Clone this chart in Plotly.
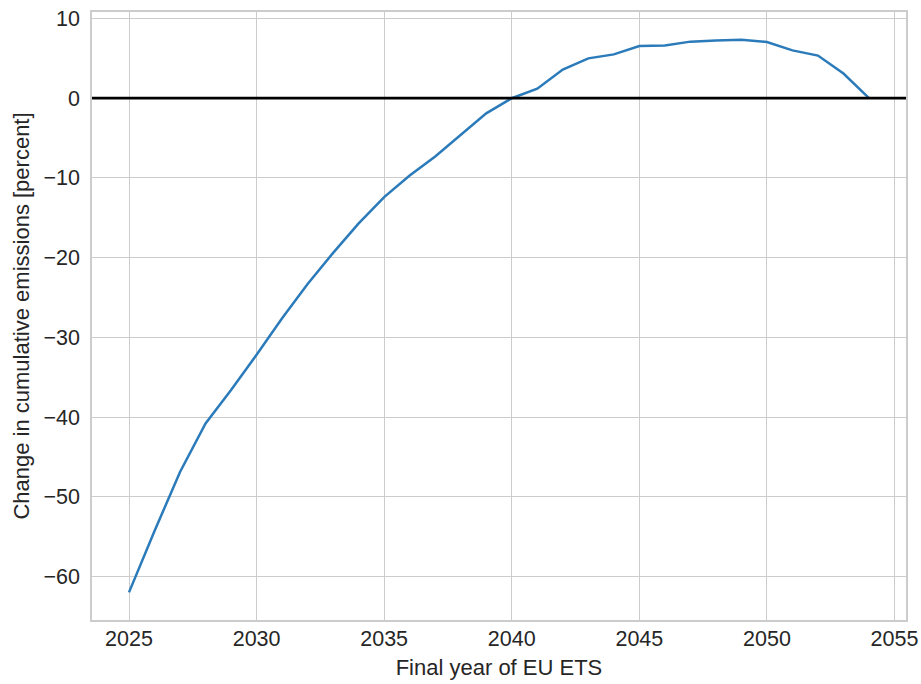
import plotly.graph_objects as go

# Final year of the EU ETS and the resulting change in cumulative emissions (%)
years = list(range(2025, 2055))
change_pct = [
    -62.0, -54.3, -46.9, -40.8, -36.6, -32.2, -27.6, -23.3, -19.4, -15.7,
    -12.4, -9.7, -7.3, -4.6, -1.9, 0.0, 1.2, 3.6, 5.0, 5.5,
    6.55, 6.6, 7.1, 7.25, 7.35, 7.05, 6.0, 5.35, 3.1, 0.0,
]
x_ticks = [2025, 2030, 2035, 2040, 2045, 2050, 2055]
y_ticks = [10, 0, -10, -20, -30, -40, -50, -60]

FONT = "Liberation Sans, Arial, sans-serif"
GRID = "#cccccc"
TEXT = "#262626"

fig = go.Figure()
fig.add_trace(go.Scatter(
    x=years, y=change_pct, mode="lines",
    line=dict(color="#2b7bba", width=2.5),
    showlegend=False,
))

# horizontal reference line at zero across the full axes width
fig.add_hline(y=0, line=dict(color="black", width=2.8))

span_x = max(years) - min(years)
span_y = max(change_pct) - min(change_pct)

fig.update_layout(
    width=921, height=684,
    margin=dict(l=92, r=15, t=12, b=64),
    paper_bgcolor="white", plot_bgcolor="white",
    font=dict(family=FONT, size=21.5, color=TEXT),
    xaxis=dict(
        range=[min(years) - 0.05 * span_x, max(years) + 0.05 * span_x],
        tickvals=x_ticks, ticktext=[str(v) for v in x_ticks],
        tickfont=dict(size=21.5),
        showgrid=True, gridcolor=GRID, gridwidth=1.4,
        showline=True, linecolor=GRID, linewidth=1.6, mirror=True,
        zeroline=False, automargin=False,
        ticks="", ticklabelstandoff=-2,
        title=dict(text="Final year of EU ETS", font=dict(size=22), standoff=10),
    ),
    yaxis=dict(
        range=[min(change_pct) - 0.05 * span_y, max(change_pct) + 0.05 * span_y],
        tickvals=y_ticks, ticktext=[("\u2212" + str(-v)) if v < 0 else str(v) for v in y_ticks],
        tickfont=dict(size=21.5),
        showgrid=True, gridcolor=GRID, gridwidth=1.4,
        showline=True, linecolor=GRID, linewidth=1.6, mirror=True,
        zeroline=False, automargin=False,
        ticks="outside", ticklen=6, tickcolor="rgba(0,0,0,0)",
        title=dict(text="Change in cumulative emissions [percent]", font=dict(size=22), standoff=8),
    ),
)

fig.write_html("out.html")
